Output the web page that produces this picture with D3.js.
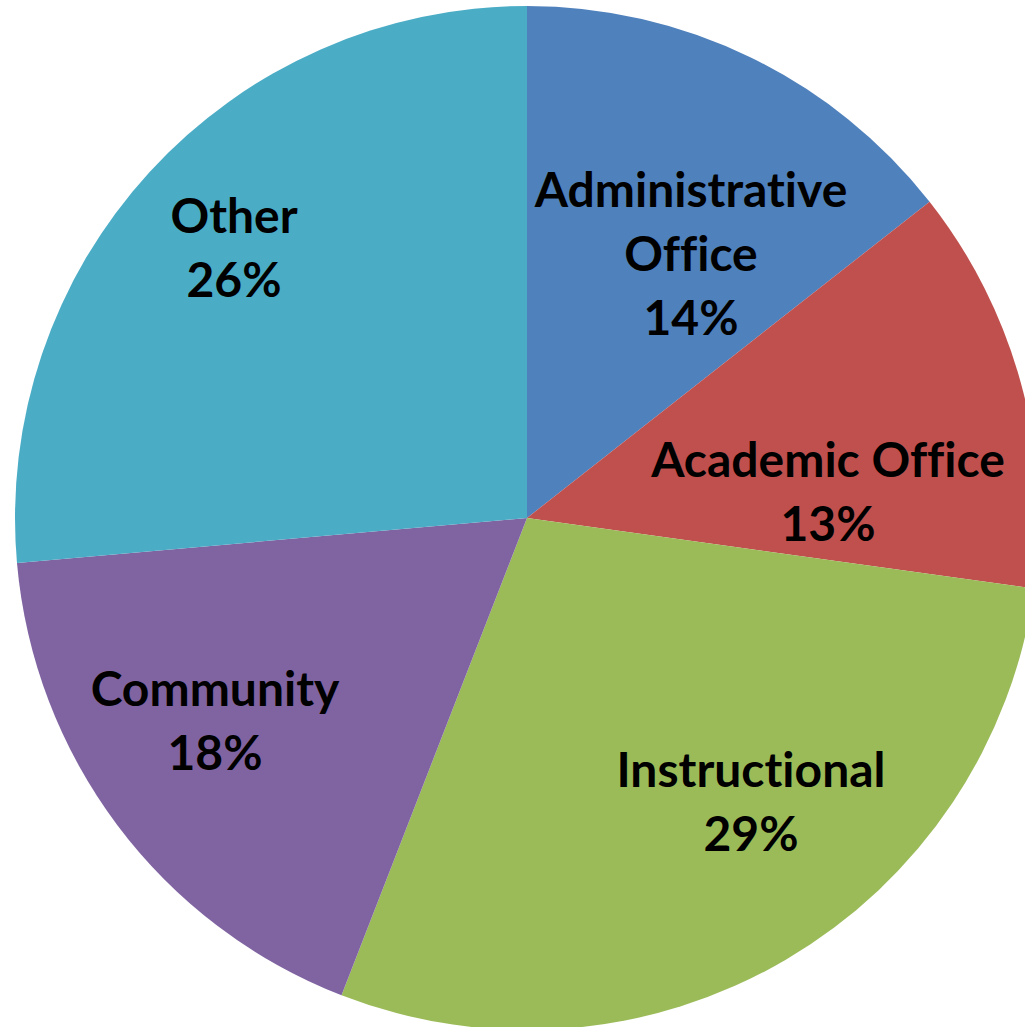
<!DOCTYPE html>
<html>
<head>
<meta charset="utf-8">
<script src="https://cdn.jsdelivr.net/npm/d3@7"></script>
<style>
  html, body { margin: 0; padding: 0; background: #ffffff; }
  svg { display: block; }
  text { font-variant-ligatures: none; font-feature-settings: "liga" 0, "clig" 0; }
</style>
</head>
<body>
<svg id="chart" width="1025" height="1027"></svg>
<script>
// ---- Data ----
const categories = ["Administrative Office", "Academic Office", "Instructional", "Community", "Other"];
const values = [14.4, 12.8, 28.7, 17.7, 26.4];
const colors = ["#4F81BD", "#C0504D", "#9BBB59", "#8064A2", "#4BACC6"];
// label lines (category text broken as in the chart)
const labelLines = [["Administrative", "Office"], ["Academic Office"], ["Instructional"], ["Community"], ["Other"]];

// ---- Layout ----
const W = 1025, H = 1027;
const cx = 527, cy = 518, R = 512;
// label anchor offsets from the pie centre (x centre, baseline of first line)
const labelPos = [[164, -311], [301, -41], [224, 269], [-312, 188], [-293, -285]];
const lineH = 64;

const svg = d3.select("#chart");
const g = svg.append("g").attr("transform", `translate(${cx},${cy})`);

const pie = d3.pie().sort(null).value(d => d.value);
const arc = d3.arc().innerRadius(0).outerRadius(R);

const data = categories.map((c, i) => ({ name: c, value: values[i], color: colors[i], lines: labelLines[i], pos: labelPos[i] }));
const total = d3.sum(values);

g.selectAll("path.slice")
  .data(pie(data))
  .join("path")
  .attr("class", "slice")
  .attr("d", arc)
  .attr("fill", d => d.data.color);

const labels = g.selectAll("text.lbl")
  .data(data)
  .join("text")
  .attr("class", "lbl")
  .attr("text-anchor", "middle")
  .attr("font-family", "Lato, 'Open Sans', sans-serif")
  .attr("font-weight", "bold")
  .attr("font-size", 48)
  .attr("fill", "#000000");

labels.each(function(d) {
  const t = d3.select(this);
  const lines = d.lines.concat([d3.format(".0f")(Math.round(d.value / total * 100)) + "%"]);
  lines.forEach((ln, j) => {
    t.append("tspan")
      .attr("x", d.pos[0])
      .attr("y", d.pos[1] + j * lineH)
      .text(ln);
  });
});
</script>
</body>
</html>
